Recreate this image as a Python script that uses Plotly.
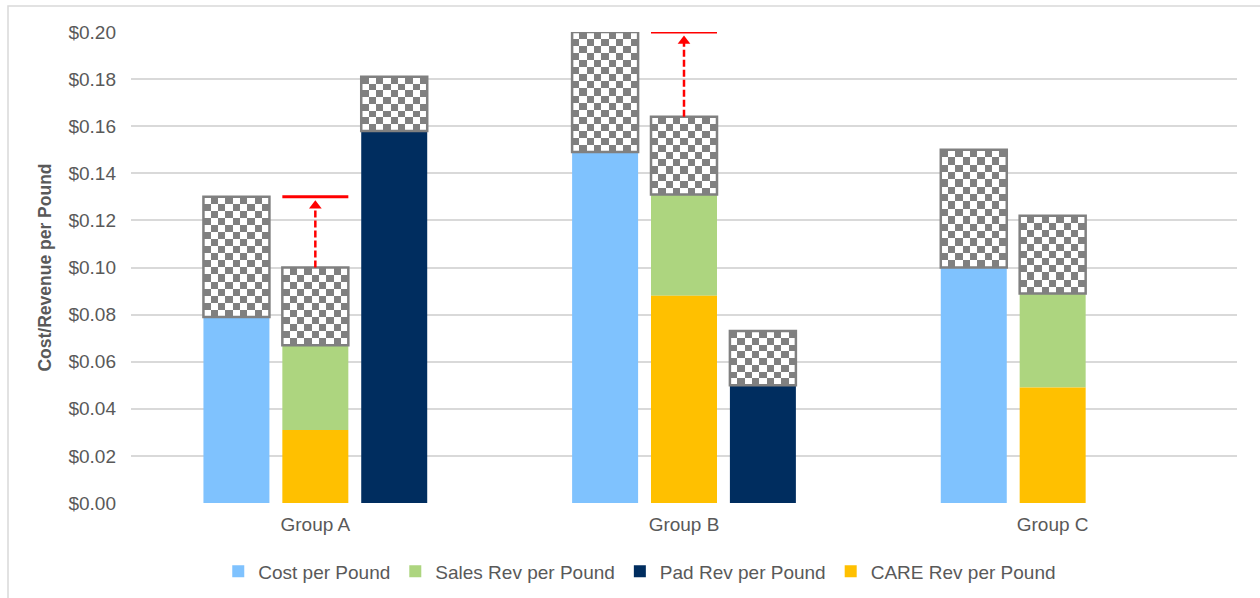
import numpy as np
import plotly.graph_objects as go

# ---------------- data ----------------
GROUPS = ["Group A", "Group B", "Group C"]
COST_PER_LB = [0.079, 0.149, 0.100]
COST_RANGE_TOP = [0.130, 0.200, 0.150]
CARE_REV_PER_LB = [0.031, 0.088, 0.049]
SALES_REV_PER_LB = [0.036, 0.043, 0.040]
REV_RANGE_TOP = [0.100, 0.164, 0.122]
PAD_REV_PER_LB = [0.158, 0.050, None]
PAD_RANGE_TOP = [0.181, 0.073, None]
ARROW_GROUPS = ["Group A", "Group B"]
Y_TICKS = [0.00, 0.02, 0.04, 0.06, 0.08, 0.10, 0.12, 0.14, 0.16, 0.18, 0.20]

# ---------------- style ----------------
FONT = "Liberation Sans, Arial, sans-serif"
TXT = "#595959"
C_COST = "#7fc2fe"
C_SALES = "#add57f"
C_PAD = "#002d5f"
C_CARE = "#ffc000"
C_CHECK = "#808080"
SLOT_OFFSET = {"cost": -0.214, "rev": 0.0, "pad": 0.214}
BAR_W = 0.179
CHECK_NX = 9
CHECK_DY = 0.00306
ARROW_GAP = 0.0038

fig = go.Figure()
idx = np.arange(len(GROUPS))


def slot_x(slot):
    return [i + SLOT_OFFSET[slot] for i in idx]


# colored bars
fig.add_trace(go.Bar(name="Cost per Pound", x=slot_x("cost"), y=COST_PER_LB,
                     width=BAR_W, marker=dict(color=C_COST, line=dict(width=0)),
                     legendrank=1, hoverinfo="y"))
fig.add_trace(go.Bar(name="Sales Rev per Pound", x=slot_x("rev"), y=SALES_REV_PER_LB,
                     base=CARE_REV_PER_LB, width=BAR_W,
                     marker=dict(color=C_SALES, line=dict(width=0)),
                     legendrank=2, hoverinfo="y"))
pad_x = [x for x, v in zip(slot_x("pad"), PAD_REV_PER_LB) if v is not None]
pad_y = [v for v in PAD_REV_PER_LB if v is not None]
fig.add_trace(go.Bar(name="Pad Rev per Pound", x=pad_x, y=pad_y, width=BAR_W,
                     marker=dict(color=C_PAD, line=dict(width=0)),
                     legendrank=3, hoverinfo="y"))
fig.add_trace(go.Bar(name="CARE Rev per Pound", x=slot_x("rev"), y=CARE_REV_PER_LB,
                     width=BAR_W, marker=dict(color=C_CARE, line=dict(width=0)),
                     legendrank=4, hoverinfo="y"))

# range (checkerboard) segments
ranges = []
for i in idx:
    ranges.append((i + SLOT_OFFSET["cost"], COST_PER_LB[i], COST_RANGE_TOP[i]))
    ranges.append((i + SLOT_OFFSET["rev"], CARE_REV_PER_LB[i] + SALES_REV_PER_LB[i],
                   REV_RANGE_TOP[i]))
    if PAD_REV_PER_LB[i] is not None:
        ranges.append((i + SLOT_OFFSET["pad"], PAD_REV_PER_LB[i], PAD_RANGE_TOP[i]))

for xc, lo, hi in ranges:
    ny = max(1, int(round((hi - lo) / CHECK_DY)))
    xe = np.linspace(xc - BAR_W / 2, xc + BAR_W / 2, CHECK_NX + 1)
    ye = np.linspace(lo, hi, ny + 1)
    z = [[(r + c) % 2 for c in range(CHECK_NX)] for r in range(ny)]
    fig.add_trace(go.Heatmap(x=xe, y=ye, z=z, zmin=0, zmax=1,
                             colorscale=[[0, "#ffffff"], [1, C_CHECK]],
                             showscale=False, hoverinfo="skip"))
    fig.add_trace(go.Bar(x=[xc], y=[hi - lo], base=[lo], width=BAR_W,
                         marker=dict(color="rgba(0,0,0,0)",
                                     line=dict(color=C_CHECK, width=2.5)),
                         showlegend=False, hoverinfo="skip"))

# red arrows
for g in ARROW_GROUPS:
    i = GROUPS.index(g)
    xc = i + SLOT_OFFSET["rev"]
    y0 = REV_RANGE_TOP[i]
    y1 = COST_RANGE_TOP[i]
    fig.add_trace(go.Scatter(x=[xc, xc], y=[y0, y1 - ARROW_GAP], mode="lines",
                             line=dict(color="#ff0000", width=2.5, dash="7px,3px"),
                             showlegend=False, hoverinfo="skip"))
    fig.add_trace(go.Scatter(x=[xc], y=[y1 - ARROW_GAP], mode="markers",
                             marker=dict(symbol="triangle-up", size=11, color="#ff0000",
                                         line=dict(width=0)),
                             showlegend=False, hoverinfo="skip"))
    fig.add_trace(go.Scatter(x=[xc - BAR_W / 2, xc + BAR_W / 2], y=[y1, y1], mode="lines",
                             line=dict(color="#ff0000", width=3),
                             showlegend=False, hoverinfo="skip"))

fig.update_layout(
    width=1260, height=598,
    barmode="overlay",
    paper_bgcolor="white", plot_bgcolor="white",
    margin=dict(l=131, r=23, t=32, b=95, autoexpand=False),
    font=dict(family=FONT, color=TXT, size=19),
    showlegend=True,
    legend=dict(orientation="h", x=0.46, xanchor="center", y=-0.145, yanchor="middle",
                font=dict(size=19, color=TXT), traceorder="normal"),
    xaxis=dict(range=[-0.5, 2.5], tickvals=list(idx), ticktext=GROUPS,
               showgrid=False, zeroline=False, showline=False,
               tickfont=dict(size=19, color=TXT), ticklabelstandoff=8),
    yaxis=dict(range=[0, 0.2], tickvals=Y_TICKS, tickformat="$.2f",
               showgrid=True, gridcolor="#d9d9d9", gridwidth=1.5,
               zeroline=False, showline=False,
               tickfont=dict(size=19, color=TXT), ticklabelstandoff=14,
               title=dict(text="<b>Cost/Revenue per Pound</b>",
                          font=dict(size=17.5, color=TXT), standoff=12)),
    shapes=[dict(type="rect", xref="paper", yref="paper",
                 x0=(8 - 131) / 1106, x1=(1270 - 131) / 1106,
                 y0=(503 - 610) / 471, y1=(503 - 6) / 471,
                 line=dict(color="#d9d9d9", width=1.5), fillcolor="rgba(0,0,0,0)",
                 layer="below")],
)

fig.write_html("out.html")
